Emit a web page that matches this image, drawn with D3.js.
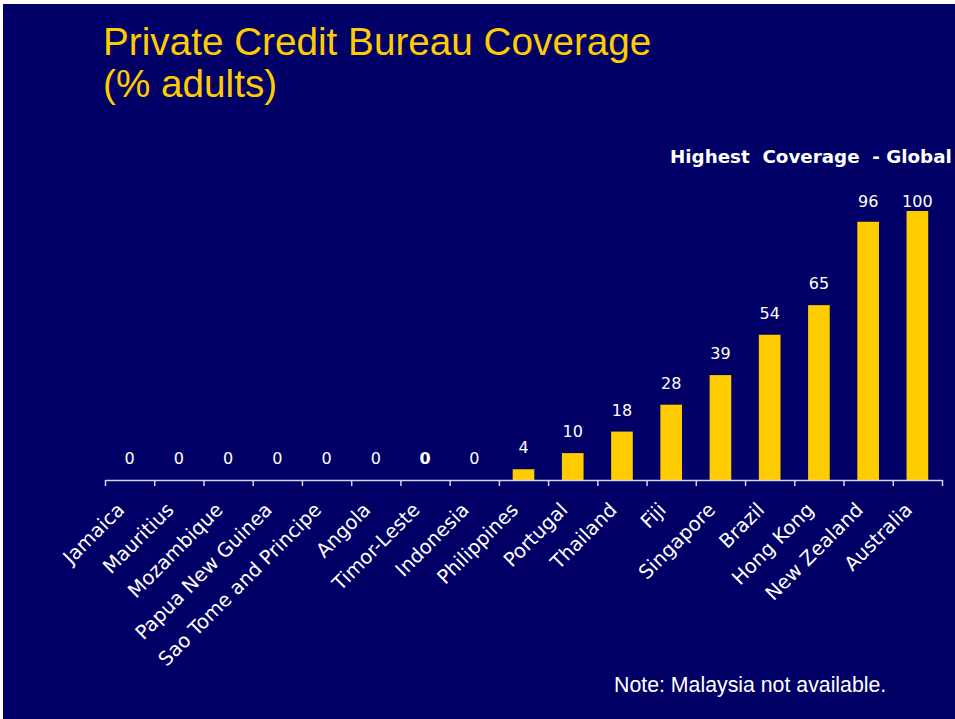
<!DOCTYPE html>
<html>
<head>
<meta charset="utf-8">
<script src="https://cdnjs.cloudflare.com/ajax/libs/d3/7.8.5/d3.min.js"></script>
<style>
  html, body { margin: 0; padding: 0; background: #ffffff; }
  svg { display: block; }
</style>
</head>
<body>
<script>
// ---- Data ----
const categories = ["Jamaica", "Mauritius", "Mozambique", "Papua New Guinea", "Sao Tome and Principe",
  "Angola", "Timor-Leste", "Indonesia", "Philippines", "Portugal", "Thailand", "Fiji",
  "Singapore", "Brazil", "Hong Kong", "New Zealand", "Australia"];
const coverage = [0, 0, 0, 0, 0, 0, 0, 0, 4, 10, 18, 28, 39, 54, 65, 96, 100];
const titleLines = ["Private Credit Bureau Coverage", "(% adults)"];
const subtitle = "Highest  Coverage  - Global";
const note = "Note: Malaysia not available.";

// ---- Layout ----
const W = 955, H = 719;
const svg = d3.select("body").append("svg").attr("width", W).attr("height", H);

svg.append("rect").attr("x", 3).attr("y", 4).attr("width", W - 3).attr("height", H - 4)
  .attr("fill", "#000066");

const x = d3.scaleBand().domain(categories).range([105, 942])
  .paddingInner(0.56).paddingOuter(0.28);
const y = d3.scaleLinear().domain([0, 100]).range([480, 211]);

// Title
svg.append("g").selectAll("text").data(titleLines).join("text")
  .attr("x", 103).attr("y", (d, i) => 55 + i * 42)
  .attr("font-family", "'Liberation Sans', Arial, sans-serif")
  .attr("font-size", 38.7).attr("fill", "#FFCC00")
  .text(d => d);

// Subtitle
svg.append("text").attr("x", 670).attr("y", 163)
  .attr("font-family", "'DejaVu Sans', Verdana, sans-serif")
  .attr("font-weight", "bold").attr("font-size", 18.3)
  .attr("fill", "#ffffff").style("white-space", "pre")
  .text(subtitle);

// Bars
const data = categories.map((c, i) => ({ c, v: coverage[i] }));
svg.append("g").selectAll("rect").data(data).join("rect")
  .attr("x", d => x(d.c))
  .attr("width", x.bandwidth())
  .attr("y", d => y(d.v))
  .attr("height", d => y(0) - y(d.v))
  .attr("fill", "#FFCC00");

// Value labels
svg.append("g").selectAll("text").data(data).join("text")
  .attr("x", d => x(d.c) + x.bandwidth() / 2)
  .attr("y", d => Math.max(y(d.v) - 16, 207))
  .attr("text-anchor", "middle")
  .attr("font-family", "'DejaVu Sans', Verdana, sans-serif")
  .attr("font-size", 16)
  .attr("font-weight", d => d.c === "Timor-Leste" ? "bold" : "normal")
  .attr("fill", "#ffffff")
  .text(d => d.v);

// Axis with ticks at category boundaries
const bounds = d3.scaleLinear().domain([0, categories.length]).range([105, 942]);
const axisG = svg.append("g").attr("transform", "translate(0,480)")
  .call(d3.axisBottom(bounds).ticks(categories.length).tickSize(6).tickSizeOuter(0).tickFormat(""));
axisG.select(".domain").attr("stroke", "#d4d4ec").attr("stroke-width", 1.5);
axisG.selectAll(".tick line").attr("stroke", "#d4d4ec").attr("stroke-width", 1.5);

// Category labels
svg.append("g").selectAll("text").data(categories).join("text")
  .attr("transform", d => `translate(${x(d) + x.bandwidth() / 2 - 4},511) rotate(-45)`)
  .attr("text-anchor", "end")
  .attr("font-family", "'DejaVu Sans', Verdana, sans-serif")
  .attr("font-size", 19.5)
  .attr("fill", "#ffffff")
  .text(d => d);

// Note
svg.append("text").attr("x", 614).attr("y", 692)
  .attr("font-family", "'Liberation Sans', Arial, sans-serif")
  .attr("font-size", 21.3).attr("fill", "#ffffff")
  .text(note);
</script>
</body>
</html>
